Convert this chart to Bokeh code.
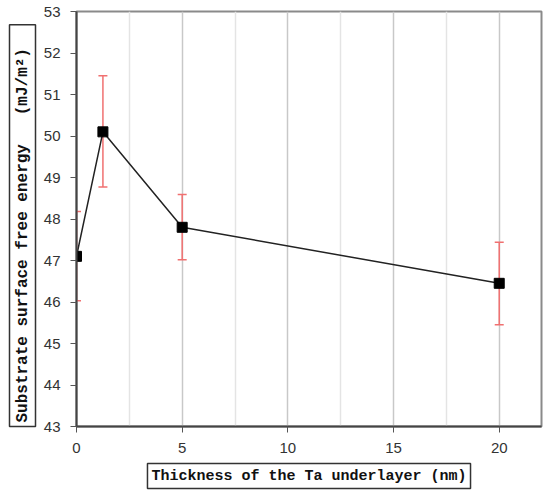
from bokeh.plotting import figure
from bokeh.layouts import row
from bokeh.models import (ColumnDataSource, Whisker, TeeHead, Title, FixedTicker, Range1d, Spacer)
from bokeh.embed import file_html
from bokeh.resources import INLINE

# Data
thickness = [0, 1.25, 5, 20]
energy = [47.1, 50.1, 47.8, 46.45]
err_low = [46.03, 48.77, 47.02, 45.45]
err_high = [48.18, 51.45, 48.59, 47.44]

x_major = [0, 5, 10, 15, 20]
x_minor = [2.5, 7.5, 12.5, 17.5]
y_ticks = [43, 44, 45, 46, 47, 48, 49, 50, 51, 52, 53]

x_title = "Thickness of the Ta underlayer (nm)"
y_title = "Substrate surface free energy\u00a0\u00a0\u00a0(mJ/m\u00b2)\u00a0\u00a0"

src = ColumnDataSource(dict(x=thickness, y=energy, lo=err_low, hi=err_high))

p = figure(width=541, height=494, output_backend="svg", toolbar_location=None,
           x_range=Range1d(0, 22), y_range=Range1d(43, 53),
           min_border_left=2, min_border_right=2, min_border_top=11, min_border_bottom=2)

p.outline_line_color = "#8a8a8a"
p.outline_line_width = 2

# axes
for ax in (p.xaxis[0], p.yaxis[0]):
    ax.axis_line_color = "#444444"
    ax.axis_line_width = 2
    ax.major_tick_line_color = "#555555"
    ax.major_tick_line_width = 1
    ax.minor_tick_line_color = None
    ax.major_tick_in = 0
    ax.major_tick_out = 6
    ax.major_label_text_font = "Liberation Sans"
    ax.major_label_text_font_size = "15px"
    ax.major_label_text_color = "#333333"
p.xaxis[0].ticker = FixedTicker(ticks=x_major, minor_ticks=x_minor)
p.yaxis[0].ticker = FixedTicker(ticks=y_ticks)
p.xaxis[0].major_label_standoff = 10
p.yaxis[0].major_label_standoff = 10

# grid
p.ygrid.grid_line_color = None
p.xgrid.grid_line_color = "#c8c8c8"
p.xgrid.grid_line_width = 1.5
p.xgrid.minor_grid_line_color = "#e4e4e4"
p.xgrid.minor_grid_line_width = 1.5

# error bars
wh = Whisker(source=src, base="x", upper="hi", lower="lo",
             line_color="#f07070", line_width=1.5,
             upper_head=TeeHead(size=9, line_color="#f07070", line_width=1.5),
             lower_head=TeeHead(size=9, line_color="#f07070", line_width=1.5))
p.add_layout(wh)

p.line("x", "y", source=src, line_color="#222222", line_width=1.5)
p.scatter("x", "y", source=src, marker="square", size=10, fill_color="black", line_color="black")

# boxed axis titles
common = dict(text_font="Liberation Mono", text_font_style="bold", text_color="#111111",
              border_line_color="#333333", border_line_width=1.5,
              background_fill_color="white", padding=4)
p.add_layout(Title(text=x_title, align="center", standoff=12, text_font_size="15px", **common), "below")
p.add_layout(Title(text=y_title, align="left", offset=0, standoff=10, text_font_size="16px", **common), "left")

layout = row(Spacer(width=2, height=494), p)
open("out.html", "w").write(file_html(layout, INLINE))
